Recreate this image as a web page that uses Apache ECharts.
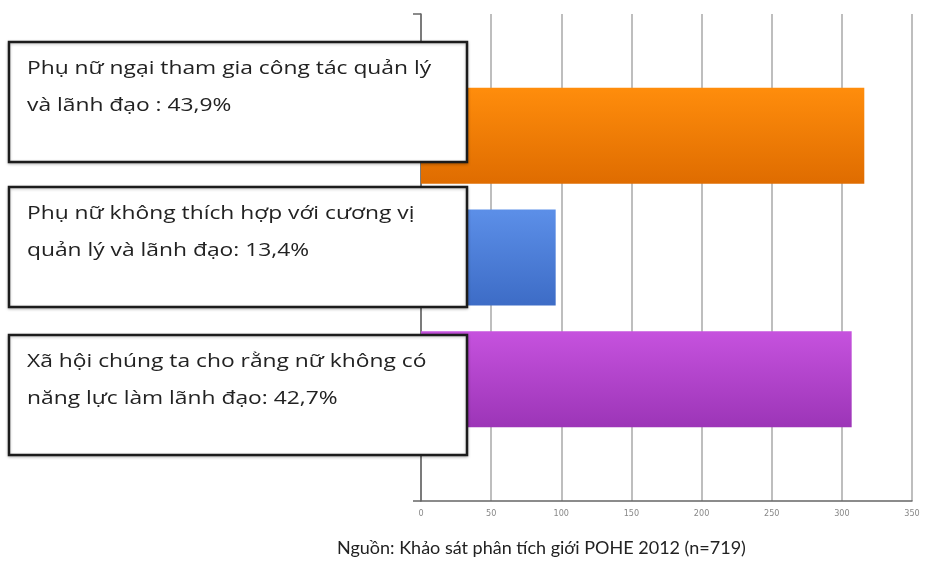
<!DOCTYPE html>
<html>
<head>
<meta charset="utf-8">
<script src="https://cdn.jsdelivr.net/npm/echarts@6/dist/echarts.min.js"></script>
<style>
  html, body { margin: 0; padding: 0; background: #fff; }
  #chart { width: 927px; height: 562px; }
</style>
</head>
<body>
<div id="chart"></div>
<script>
// Survey answers (top to bottom), respondent counts and stated shares
const answers = [
  ['Phụ nữ ngại tham gia công tác quản lý', 'và lãnh đạo : 43,9%'],
  ['Phụ nữ không thích hợp với cương vị', 'quản lý và lãnh đạo: 13,4%'],
  ['Xã hội chúng ta cho rằng nữ không có', 'năng lực làm lãnh đạo: 42,7%']
];
const counts = [316, 96, 307];
const barColors = [
  ['#ff8d0c', '#df6c00'],
  ['#5c8fe8', '#3d6cc6'],
  ['#c652de', '#9c35b7']
];
const xTicks = { min: 0, max: 350, step: 50 };
const sourceNote = 'Nguồn: Khảo sát phân tích giới POHE 2012 (n=719)';

// Category axis runs bottom-to-top with an empty slot at each end
const yCats = ['', ...answers.slice().reverse().map(a => a.join(' ')), ''];
const barData = [null, ...counts.map((v, i) => ({
  value: v,
  itemStyle: {
    color: new echarts.graphic.LinearGradient(0, 0, 0, 1, [
      { offset: 0, color: barColors[i][0] },
      { offset: 1, color: barColors[i][1] }
    ])
  }
})).reverse(), null];

// Callout boxes sitting over the left end of each bar
const boxTops = [42, 187, 335];
const graphics = [];
answers.forEach((lines, i) => {
  graphics.push({
    type: 'rect',
    z: 100,
    shape: { x: 9, y: boxTops[i], width: 458, height: 120 },
    style: {
      fill: '#fff', stroke: '#1c1c1c', lineWidth: 2.5,
      shadowBlur: 3, shadowColor: 'rgba(0,0,0,0.25)', shadowOffsetY: 1
    }
  });
  graphics.push({
    type: 'text',
    z: 101,
    x: 27, y: boxTops[i] + 8,
    scaleX: 1.2,
    style: {
      text: lines.join('\n'),
      font: '19px "Open Sans"',
      fill: '#222',
      lineHeight: 37,
      verticalAlign: 'top'
    }
  });
});
graphics.push({
  type: 'text',
  z: 101,
  x: 337, y: 539,
  style: { text: sourceNote, font: '18px Lato', fill: '#222' }
});

const chart = echarts.init(document.getElementById('chart'));
chart.setOption({
  animation: false,
  grid: { left: 421, right: 15, top: 14, bottom: 61 },
  xAxis: {
    type: 'value',
    min: xTicks.min, max: xTicks.max, interval: xTicks.step,
    axisLine: { show: true, lineStyle: { color: '#666', width: 1.5 } },
    axisTick: { show: false },
    splitLine: { show: true, lineStyle: { color: '#a8a8a8', width: 1.5 } },
    axisLabel: { fontSize: 9, color: '#888', margin: 8, fontFamily: 'Liberation Sans Narrow, DejaVu Sans Condensed, sans-serif' }
  },
  yAxis: {
    type: 'category',
    data: yCats,
    boundaryGap: false,
    axisLine: { show: true, lineStyle: { color: '#666', width: 1.5 } },
    axisTick: { show: true, length: 8, lineStyle: { color: '#666', width: 1.5 } },
    axisLabel: { show: false },
    splitLine: { show: false }
  },
  series: [{
    type: 'bar',
    data: barData,
    barWidth: 96,
    z: 3
  }],
  graphic: graphics
});
</script>
</body>
</html>
